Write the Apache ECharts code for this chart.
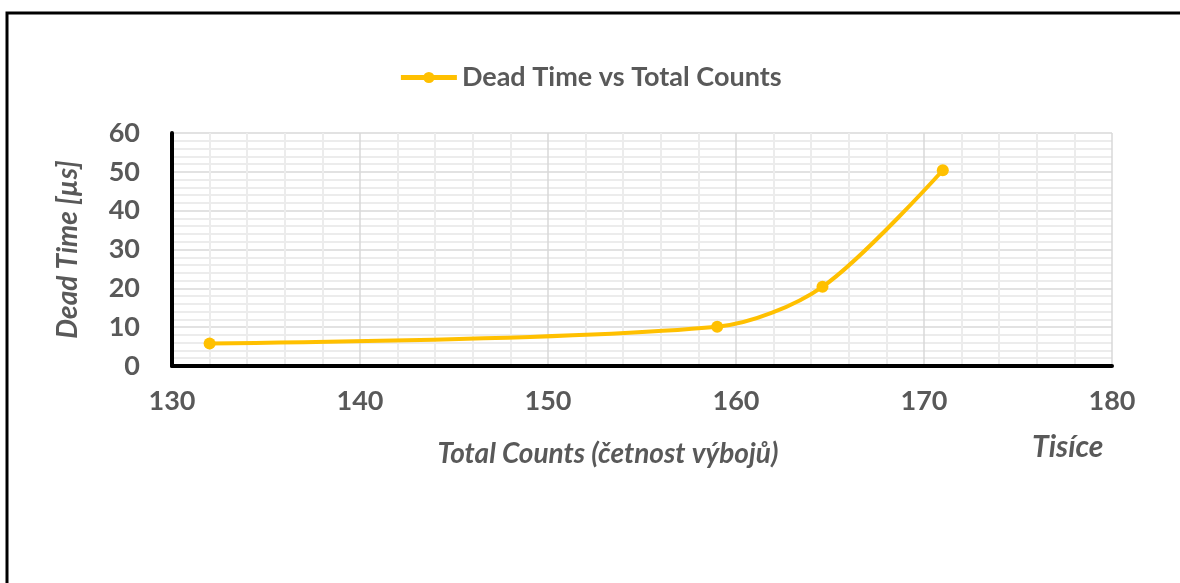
<!DOCTYPE html>
<html>
<head>
<meta charset="utf-8">
<script src="https://cdn.jsdelivr.net/npm/echarts@6/dist/echarts.min.js"></script>
<style>
  html, body { margin: 0; padding: 0; background: #ffffff; }
  #chart { width: 1180px; height: 583px; }
</style>
</head>
<body>
<div id="chart"></div>
<script>
// Total counts in thousands and the measured dead time in microseconds
const totalCounts = [132.0, 159.0, 164.6, 171.0];
const deadTime = [5.8, 10.1, 20.4, 50.4];
const seriesName = 'Dead Time vs Total Counts';
const xTitle = 'Total Counts (četnost výbojů)';
const yTitle = 'Dead Time [µs]';
const unitLabel = 'Tisíce';

const textColor = '#595959';
const fontFamily = 'Lato, "Open Sans", sans-serif';

const chart = echarts.init(document.getElementById('chart'));
chart.setOption({
  backgroundColor: '#ffffff',
  animation: false,
  legend: {
    top: 59,
    left: 'center',
    itemWidth: 56,
    itemHeight: 14,
    itemGap: 2,
    lineStyle: { width: 5 },
    textStyle: { color: textColor, fontFamily, fontWeight: 'bold', fontSize: 27 },
    data: [seriesName]
  },
  grid: { left: 172, right: 68, top: 133, bottom: 217 },
  xAxis: {
    type: 'value',
    min: 130, max: 180, interval: 10,
    name: xTitle,
    nameLocation: 'middle',
    nameGap: 74,
    nameTextStyle: {
      color: textColor, fontFamily, fontWeight: 'bold', fontStyle: 'italic', fontSize: 28,
      padding: [0, 68, 0, 0]
    },
    axisLine: { show: true, onZero: false, lineStyle: { color: '#000000', width: 4 } },
    axisTick: { show: false },
    axisLabel: { color: textColor, fontFamily, fontWeight: 'bold', fontSize: 27, margin: 22 },
    splitLine: { show: true, lineStyle: { color: '#d9d9d9', width: 1.5 } },
    minorTick: { show: false, splitNumber: 5 },
    minorSplitLine: { show: true, lineStyle: { color: '#ececec', width: 2 } }
  },
  yAxis: {
    type: 'value',
    min: 0, max: 60, interval: 10,
    name: yTitle,
    nameLocation: 'middle',
    nameGap: 90,
    nameRotate: 90,
    nameTextStyle: { color: textColor, fontFamily, fontWeight: 'bold', fontStyle: 'italic', fontSize: 28 },
    axisLine: { show: true, lineStyle: { color: '#000000', width: 4 } },
    axisTick: { show: false },
    axisLabel: { color: textColor, fontFamily, fontWeight: 'bold', fontSize: 27, margin: 32 },
    splitLine: { show: true, lineStyle: { color: '#d9d9d9', width: 1.5 } },
    minorTick: { show: false, splitNumber: 5 },
    minorSplitLine: { show: true, lineStyle: { color: '#ececec', width: 2 } }
  },
  graphic: [
    {
      type: 'rect',
      silent: true,
      shape: { x: 7, y: 13, width: 1200, height: 600 },
      style: { fill: 'none', stroke: '#000000', lineWidth: 3 }
    },
    {
      type: 'text',
      left: 1032,
      top: 432,
      style: { text: unitLabel, fill: textColor, font: 'italic bold 30px ' + fontFamily }
    }
  ],
  series: [{
    name: seriesName,
    type: 'line',
    data: totalCounts.map((x, i) => [x, deadTime[i]]),
    smooth: 0.3,
    symbol: 'circle',
    symbolSize: 12,
    lineStyle: { color: '#FFC000', width: 4 },
    itemStyle: { color: '#FFC000' }
  }]
});
</script>
</body>
</html>
